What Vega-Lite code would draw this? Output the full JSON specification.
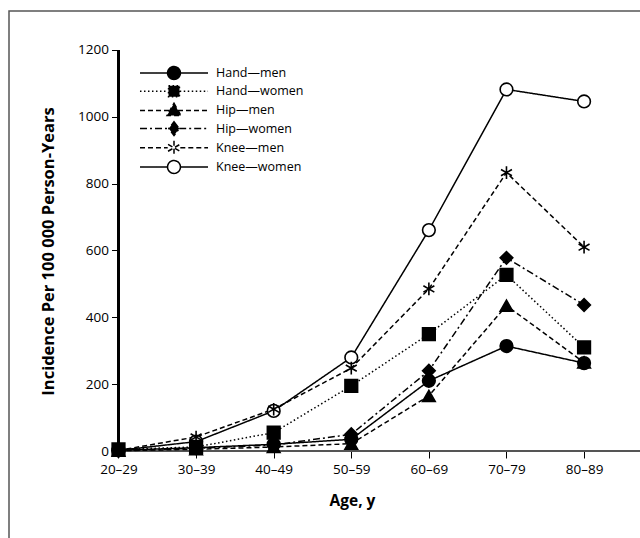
{
  "$schema": "https://vega.github.io/schema/vega-lite/v6.json",
  "width": 700,
  "height": 600,
  "autosize": "none",
  "padding": {"left": 9, "top": 11, "right": 0, "bottom": 0},
  "background": "white",
  "config": {
    "font": "Open Sans",
    "view": {"stroke": "#555555", "strokeWidth": 1.5},
    "axis": {"grid": false, "domain": false, "tickColor": "black", "tickWidth": 1, "tickSize": 7, "labelColor": "black", "labelFontSize": 13.5, "titleColor": "black", "titleFontSize": 15.5, "titleFontWeight": "bold", "labelFont": "Open Sans", "titleFont": "Open Sans"},
    "legend": {"title": null, "orient": "none", "legendX": 157, "legendY": 54, "padding": 0, "symbolSize": 196, "labelOffset": 34, "rowPadding": -0.8, "labelFontSize": 12.5, "labelColor": "black", "labelFont": "Open Sans", "symbolStrokeWidth": 1.5}
  },
  "data": {
    "values": [
      {"site": "Knee—women", "age": "20–29", "i": 0, "incidence": 2},
      {"site": "Knee—women", "age": "30–39", "i": 1, "incidence": 28},
      {"site": "Knee—women", "age": "40–49", "i": 2, "incidence": 120},
      {"site": "Knee—women", "age": "50–59", "i": 3, "incidence": 280},
      {"site": "Knee—women", "age": "60–69", "i": 4, "incidence": 661},
      {"site": "Knee—women", "age": "70–79", "i": 5, "incidence": 1082},
      {"site": "Knee—women", "age": "80–89", "i": 6, "incidence": 1046},
      {"site": "Knee—men", "age": "20–29", "i": 0, "incidence": 2},
      {"site": "Knee—men", "age": "30–39", "i": 1, "incidence": 42},
      {"site": "Knee—men", "age": "40–49", "i": 2, "incidence": 125},
      {"site": "Knee—men", "age": "50–59", "i": 3, "incidence": 248},
      {"site": "Knee—men", "age": "60–69", "i": 4, "incidence": 485},
      {"site": "Knee—men", "age": "70–79", "i": 5, "incidence": 833},
      {"site": "Knee—men", "age": "80–89", "i": 6, "incidence": 610},
      {"site": "Hip—women", "age": "20–29", "i": 0, "incidence": 1},
      {"site": "Hip—women", "age": "30–39", "i": 1, "incidence": 8},
      {"site": "Hip—women", "age": "40–49", "i": 2, "incidence": 18},
      {"site": "Hip—women", "age": "50–59", "i": 3, "incidence": 50},
      {"site": "Hip—women", "age": "60–69", "i": 4, "incidence": 240},
      {"site": "Hip—women", "age": "70–79", "i": 5, "incidence": 578},
      {"site": "Hip—women", "age": "80–89", "i": 6, "incidence": 437},
      {"site": "Hip—men", "age": "20–29", "i": 0, "incidence": 1},
      {"site": "Hip—men", "age": "30–39", "i": 1, "incidence": 5},
      {"site": "Hip—men", "age": "40–49", "i": 2, "incidence": 12},
      {"site": "Hip—men", "age": "50–59", "i": 3, "incidence": 22},
      {"site": "Hip—men", "age": "60–69", "i": 4, "incidence": 165},
      {"site": "Hip—men", "age": "70–79", "i": 5, "incidence": 435},
      {"site": "Hip—men", "age": "80–89", "i": 6, "incidence": 265},
      {"site": "Hand—women", "age": "20–29", "i": 0, "incidence": 5},
      {"site": "Hand—women", "age": "30–39", "i": 1, "incidence": 12},
      {"site": "Hand—women", "age": "40–49", "i": 2, "incidence": 55},
      {"site": "Hand—women", "age": "50–59", "i": 3, "incidence": 195},
      {"site": "Hand—women", "age": "60–69", "i": 4, "incidence": 350},
      {"site": "Hand—women", "age": "70–79", "i": 5, "incidence": 527},
      {"site": "Hand—women", "age": "80–89", "i": 6, "incidence": 310},
      {"site": "Hand—men", "age": "20–29", "i": 0, "incidence": 2},
      {"site": "Hand—men", "age": "30–39", "i": 1, "incidence": 10},
      {"site": "Hand—men", "age": "40–49", "i": 2, "incidence": 20},
      {"site": "Hand—men", "age": "50–59", "i": 3, "incidence": 35},
      {"site": "Hand—men", "age": "60–69", "i": 4, "incidence": 210},
      {"site": "Hand—men", "age": "70–79", "i": 5, "incidence": 314},
      {"site": "Hand—men", "age": "80–89", "i": 6, "incidence": 263}
    ]
  },
  "encoding": {
    "x": {
      "field": "i",
      "type": "quantitative",
      "scale": {"domain": [-1.411, 7.61], "nice": false, "zero": false},
      "axis": {
        "orient": "bottom",
        "offset": -160,
        "values": [0, 1, 2, 3, 4, 5, 6],
        "labelExpr": "['20–29','30–39','40–49','50–59','60–69','70–79','80–89'][datum.value]",
        "title": "Age, y",
        "titleX": 343,
        "titleY": 49,
        "titleBaseline": "middle",
        "labelPadding": 4
      }
    },
    "y": {
      "field": "incidence",
      "type": "quantitative",
      "scale": {"domain": [-478.8, 1316.7], "nice": false, "zero": false},
      "axis": {
        "orient": "left",
        "offset": -109.5,
        "values": [0, 200, 400, 600, 800, 1000, 1200],
        "format": "d",
        "title": "Incidence Per 100 000 Person-Years",
        "titleFontSize": 16.5,
        "titleX": -70.5,
        "titleY": 240,
        "titleBaseline": "middle",
        "titleAlign": "center",
        "labelPadding": 3
      }
    }
  },
  "layer": [
    {
      "mark": {"type": "rule", "stroke": "#555555", "strokeWidth": 1.8},
      "encoding": {"x": {"datum": 0}, "x2": {"datum": 8}, "y": {"datum": 0}}
    },
    {
      "mark": {"type": "rule", "stroke": "black", "strokeWidth": 1.2},
      "encoding": {"x": {"datum": 0}, "y": {"datum": 0}, "y2": {"datum": 1200}}
    },
    {
      "mark": {"type": "line", "stroke": "black", "strokeWidth": 1.5},
      "encoding": {
        "detail": {"field": "site"},
        "strokeDash": {
          "field": "site",
          "type": "nominal",
          "scale": {
            "domain": ["Hand—men", "Hand—women", "Hip—men", "Hip—women", "Knee—men", "Knee—women"],
            "range": [[1, 0], [1.5, 2.5], [5, 3], [7, 3, 2, 3], [5, 3], [1, 0]]
          },
          "legend": null
        }
      }
    },
    {
      "mark": {"type": "point", "filled": true, "opacity": 1, "stroke": "black", "strokeWidth": 1.6, "size": 160},
      "encoding": {
        "shape": {
          "field": "site",
          "type": "nominal",
          "scale": {
            "domain": ["Hand—men", "Hand—women", "Hip—men", "Hip—women", "Knee—men", "Knee—women"],
            "range": ["circle", "square", "triangle-up", "diamond", "M0,-1V1M-0.866,-0.5L0.866,0.5M-0.866,0.5L0.866,-0.5", "circle"]
          },
          "legend": null
        },
        "fill": {
          "field": "site",
          "type": "nominal",
          "scale": {
            "domain": ["Hand—men", "Hand—women", "Hip—men", "Hip—women", "Knee—men", "Knee—women"],
            "range": ["black", "black", "black", "black", "black", "white"]
          },
          "legend": null
        }
      }
    },
    {
      "transform": [{"filter": "false"}],
      "mark": {"type": "point", "filled": true, "opacity": 1, "strokeWidth": 1.5},
      "encoding": {
        "shape": {
          "field": "site",
          "type": "nominal",
          "scale": {
            "domain": ["Hand—men", "Hand—women", "Hip—men", "Hip—women", "Knee—men", "Knee—women"],
            "range": [
              "M-4.86,0H-0.92M0.92,0H4.86M-0.92,0A0.92,0.92,0,1,0,0.92,0A0.92,0.92,0,1,0,-0.92,0Z",
              "M-4.86,0H-0.82M0.82,0H4.86M-0.78,-0.78H0.78V0.78H-0.78Z",
              "M-4.86,0H-0.57M0.57,0H4.86M0,-1.02L0.99,0.74H-0.99Z",
              "M-4.86,0H-0.74M0.74,0H4.86M0,-0.99L0.74,0L0,0.99L-0.74,0Z",
              "M-4.86,0H-0.9M0.9,0H4.86M0,-0.99V0.99M-0.85,-0.49L0.85,0.49M-0.85,0.49L0.85,-0.49",
              "M-4.86,0H-0.92M0.92,0H4.86M-0.92,0A0.92,0.92,0,1,0,0.92,0A0.92,0.92,0,1,0,-0.92,0Z"
            ]
          }
        },
        "fill": {
          "field": "site",
          "type": "nominal",
          "scale": {
            "domain": ["Hand—men", "Hand—women", "Hip—men", "Hip—women", "Knee—men", "Knee—women"],
            "range": ["black", "black", "black", "black", "black", "white"]
          }
        },
        "stroke": {
          "field": "site",
          "type": "nominal",
          "scale": {
            "domain": ["Hand—men", "Hand—women", "Hip—men", "Hip—women", "Knee—men", "Knee—women"],
            "range": ["black", "black", "black", "black", "black", "black"]
          }
        },
        "strokeDash": {
          "field": "site",
          "type": "nominal",
          "scale": {
            "domain": ["Hand—men", "Hand—women", "Hip—men", "Hip—women", "Knee—men", "Knee—women"],
            "range": [[1, 0], [1.5, 2.5], [5, 3], [7, 3, 2, 3], [5, 3], [1, 0]]
          }
        }
      }
    }
  ],
  "resolve": {"scale": {"shape": "independent", "fill": "independent", "strokeDash": "independent", "stroke": "independent"}}
}
